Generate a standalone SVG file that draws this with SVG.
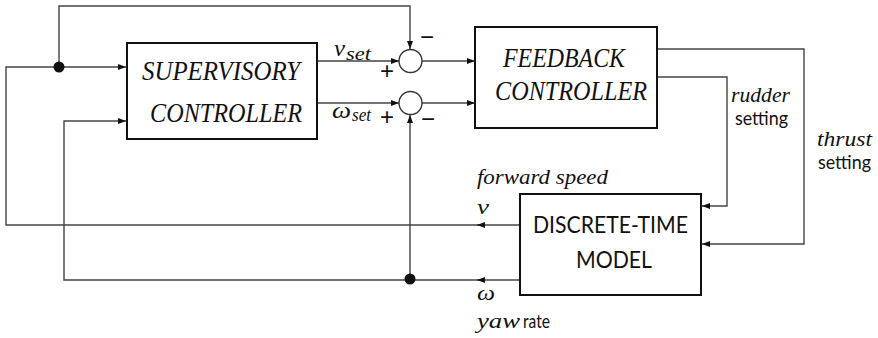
<svg xmlns="http://www.w3.org/2000/svg" width="878" height="338" viewBox="0 0 878 338">
<style>
.box{fill:#fff;stroke:#111;stroke-width:2}
.sum{fill:#fff;stroke:#333;stroke-width:1.4}
.ln{fill:none;stroke:#444;stroke-width:1.4}
.dot{fill:#111}
</style>
<defs>
<marker id="ar" markerWidth="8" markerHeight="6" refX="8" refY="3" orient="auto" markerUnits="userSpaceOnUse">
<path d="M0,0 L8,3 L0,6 Z" fill="#111"/>
</marker>
</defs>
<g id="connectors">
<path class="ln" d="M59,67 V6 H410 V49" marker-end="url(#ar)"/>
<path class="ln" d="M480,225 H6 V67 H126" marker-end="url(#ar)"/>
<path class="ln" d="M520,225 H477" marker-end="url(#ar)"/>
<path class="ln" d="M480,280 H64 V121 H126" marker-end="url(#ar)"/>
<path class="ln" d="M520,280 H477" marker-end="url(#ar)"/>
<path class="ln" d="M410,279 V115" marker-end="url(#ar)"/>
<path class="ln" d="M317,61 H399" marker-end="url(#ar)"/>
<path class="ln" d="M317,103 H399" marker-end="url(#ar)"/>
<path class="ln" d="M422,61 H475" marker-end="url(#ar)"/>
<path class="ln" d="M422,103 H475" marker-end="url(#ar)"/>
<path class="ln" d="M657,49 H804 V244 H702" marker-end="url(#ar)"/>
<path class="ln" d="M657,77 H727 V206 H702" marker-end="url(#ar)"/>
<circle class="dot" cx="59" cy="67" r="5.5"/>
<circle class="dot" cx="410" cy="279" r="5.5"/>
</g>
<g font-family="Liberation Serif, DejaVu Serif, serif" font-style="italic" fill="#111">
<g id="supervisory">
<rect class="box" x="127" y="43" width="190" height="96"/>
<text x="142" y="80" font-size="27" textLength="158" lengthAdjust="spacingAndGlyphs">SUPERVISORY</text>
<text x="150" y="122" font-size="27" textLength="152" lengthAdjust="spacingAndGlyphs">CONTROLLER</text>
</g>
<g id="sum1">
<circle class="sum" cx="410.5" cy="61" r="11.5"/>
</g>
<g id="sum2">
<circle class="sum" cx="410.5" cy="103" r="11.5"/>
</g>
<g id="feedback">
<rect class="box" x="475" y="27" width="182" height="101"/>
<text x="503" y="67" font-size="27" textLength="122" lengthAdjust="spacingAndGlyphs">FEEDBACK</text>
<text x="495" y="100" font-size="27" textLength="152" lengthAdjust="spacingAndGlyphs">CONTROLLER</text>
</g>
<g id="model">
<rect class="box" x="520" y="194" width="181" height="101"/>
<text x="533" y="233" font-size="23" font-style="normal" font-family="Lato, Liberation Sans, sans-serif" textLength="155" lengthAdjust="spacingAndGlyphs">DISCRETE-TIME</text>
<text x="576" y="268" font-size="23" font-style="normal" font-family="Lato, Liberation Sans, sans-serif" textLength="76" lengthAdjust="spacingAndGlyphs">MODEL</text>
</g>
<g id="labels">
<text x="334" y="56" font-size="23" textLength="11" lengthAdjust="spacingAndGlyphs">v</text>
<text x="346" y="60" font-size="19" textLength="25" lengthAdjust="spacingAndGlyphs">set</text>
<text x="332" y="118" font-size="24" textLength="19" lengthAdjust="spacingAndGlyphs">ω</text>
<text x="352" y="121" font-size="19" textLength="19" lengthAdjust="spacingAndGlyphs">set</text>
<g font-family="Liberation Sans, sans-serif" font-style="normal" font-size="24" text-anchor="middle">
<text x="387" y="79">+</text>
<text x="427" y="45">−</text>
<text x="387" y="125">+</text>
<text x="428" y="127">−</text>
</g>
<text x="731" y="102" font-size="20" textLength="59" lengthAdjust="spacingAndGlyphs">rudder</text>
<text x="735" y="125" font-size="20" font-style="normal" font-family="Lato, Liberation Sans, sans-serif" textLength="53" lengthAdjust="spacingAndGlyphs">setting</text>
<text x="817" y="146" font-size="20" textLength="55" lengthAdjust="spacingAndGlyphs">thrust</text>
<text x="818" y="169" font-size="20" font-style="normal" font-family="Lato, Liberation Sans, sans-serif" textLength="53" lengthAdjust="spacingAndGlyphs">setting</text>
<text x="477" y="184" font-size="20" textLength="131" lengthAdjust="spacingAndGlyphs">forward speed</text>
<text x="477" y="214" font-size="21" textLength="12" lengthAdjust="spacingAndGlyphs">v</text>
<text x="477" y="300" font-size="22" textLength="18" lengthAdjust="spacingAndGlyphs">ω</text>
<text x="477" y="328" font-size="20" textLength="43" lengthAdjust="spacingAndGlyphs">yaw</text>
<text x="523" y="328" font-size="20" font-style="normal" font-family="Lato, Liberation Sans, sans-serif" textLength="27" lengthAdjust="spacingAndGlyphs">rate</text>
</g>
</g>
</svg>
